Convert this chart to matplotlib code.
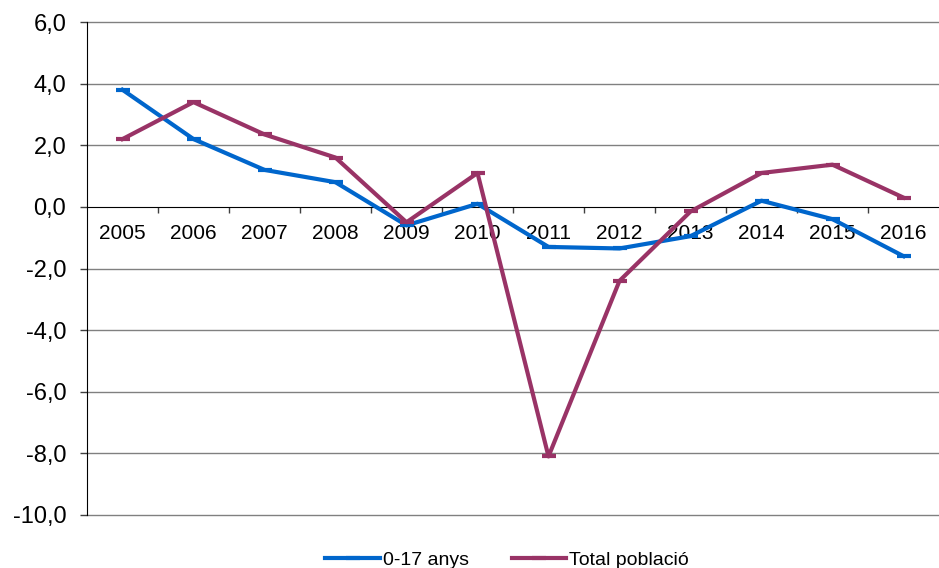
import matplotlib
matplotlib.use("Agg")
import matplotlib.pyplot as plt
import numpy as np

plt.rcParams['font.family'] = ['Liberation Sans', 'DejaVu Sans']

years = ['2005', '2006', '2007', '2008', '2009', '2010', '2011', '2012', '2013', '2014', '2015', '2016']
youth = [3.8, 2.2, 1.2, 0.8, -0.6, 0.1, -1.3, -1.35, -0.95, 0.2, -0.4, -1.6]
total = [2.2, 3.4, 2.35, 1.6, -0.5, 1.1, -8.1, -2.4, -0.15, 1.1, 1.37, 0.3]
yticks = [-10, -8, -6, -4, -2, 0, 2, 4, 6]
ylabels = ['-10,0', '-8,0', '-6,0', '-4,0', '-2,0', '0,0', '2,0', '4,0', '6,0']

fig = plt.figure(figsize=(9.39, 5.68), dpi=100)
ax = fig.add_axes([87/939, 1-515/568, 852/939, (515-22)/568])

x = np.arange(len(years))
ax.plot(x, youth, color='#0066CC', lw=3, marker='_', ms=10, mew=3, label='0-17 anys', zorder=3)
ax.plot(x, total, color='#993366', lw=3, marker='_', ms=10, mew=3, label='Total població', zorder=3)

ax.set_ylim(-10, 6)
ax.set_xlim(-0.5, len(years)-0.5)
ax.set_yticks(yticks)
ax.set_yticklabels(ylabels, fontsize=17)
ax.tick_params(axis='y', length=5, width=1, color='#404040', pad=10)
for t in yticks:
    if t != 0:
        ax.axhline(t, color='#808080', lw=1, zorder=1, clip_on=False)

ax.spines['top'].set_visible(False)
ax.spines['right'].set_visible(False)
ax.spines['left'].set_color('black')
ax.spines['bottom'].set_position(('data', 0))
ax.spines['bottom'].set_color('black')
ax.spines['bottom'].set_zorder(2)

ax.set_xticks(x)
ax.set_xticklabels(years, fontsize=15)
ax.tick_params(axis='x', which='major', length=0, pad=12)
ax.set_xticks(np.arange(0.5, len(years)-0.5, 1), minor=True)
ax.tick_params(axis='x', which='minor', length=4, width=1, color='#404040', direction='out')

fig.legend(loc='lower center', bbox_to_anchor=(0.54, -0.032), ncol=2, frameon=False,
           fontsize=14, handlelength=2.8, handletextpad=0.15, columnspacing=2.2)

fig.savefig('out.png', dpi=100)
